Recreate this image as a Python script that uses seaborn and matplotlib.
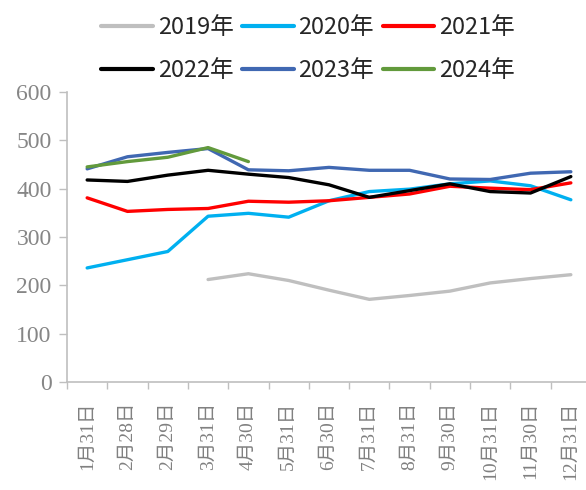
import matplotlib
matplotlib.use('Agg')
import matplotlib.pyplot as plt
import numpy as np
import pandas as pd
import seaborn as sns

# category labels (month-end dates)
dates = ['1月31日', '2月28日', '2月29日', '3月31日', '4月30日', '5月31日', '6月30日',
         '7月31日', '8月31日', '9月30日', '10月31日', '11月30日', '12月31日']
years = ['2019年', '2020年', '2021年', '2022年', '2023年', '2024年']

nan = np.nan
v2019 = [nan, nan, nan, 212, 224, 210, 190, 171, 179, 188, 205, 214, 222]
v2020 = [236, 253, 270, 343, 349, 341, 375, 394, 399, 410, 416, 406, 377]
v2021 = [381, 353, 357, 359, 374, 372, 375, 382, 389, 405, 401, 398, 412]
v2022 = [418, 415, 428, 438, 430, 423, 408, 382, 396, 410, 394, 391, 425]
v2023 = [441, 466, 475, 483, 439, 437, 444, 438, 438, 420, 419, 432, 435]
v2024 = [445, 456, 465, 485, 456, nan, nan, nan, nan, nan, nan, nan, nan]

colors = ['#BFBFBF', '#00B0F0', '#FF0000', '#000000', '#4068B2', '#629A3C']

series = [v2019, v2020, v2021, v2022, v2023, v2024]
rows = []
for yr, vals in zip(years, series):
    for i, v in enumerate(vals):
        rows.append({'idx': i, 'year': yr, 'value': v})
df = pd.DataFrame(rows).dropna()

sns.set_style('white')
plt.rcParams['font.family'] = ['Liberation Serif', 'Noto Sans CJK SC', 'DejaVu Sans']

fig = plt.figure(figsize=(5.86, 4.9), dpi=100)
ax = fig.add_axes([67 / 586, 108 / 490, 524 / 586, 290 / 490])

sns.lineplot(data=df, x='idx', y='value', hue='year', hue_order=years,
             palette=colors, linewidth=2.4, ax=ax, legend=True)

ax.set_xlim(-0.5, 12.5)
ax.set_ylim(0, 600)
ax.set_yticks(range(0, 601, 100))
ax.set_xticks(range(len(dates)))
ax.set_xticklabels(dates, rotation=90, fontsize=14, color='#808080')
ax.set_xticks(np.arange(-0.5, 12.6, 1), minor=True)
ax.tick_params(axis='x', which='major', length=0, pad=14)
ax.tick_params(axis='x', which='minor', length=5, color='#BFBFBF', width=1, direction='out')
ax.tick_params(axis='y', length=6, color='#BFBFBF', width=1, direction='out',
               labelsize=17, labelcolor='#868686', pad=5)
ax.tick_params(bottom=True, left=True, which='both')
for t in ax.get_yticklabels():
    t.set_fontfamily(['Liberation Serif'])
for t in ax.get_xticklabels():
    t.set_fontfamily(['Liberation Serif', 'Noto Sans CJK SC'])
ax.set_xlabel('')
ax.set_ylabel('')
for s in ['top', 'right']:
    ax.spines[s].set_visible(False)
for s in ['left', 'bottom']:
    ax.spines[s].set_color('#BFBFBF')
    ax.spines[s].set_linewidth(1.2)

handles, labels = ax.get_legend_handles_labels()
ax.get_legend().remove()
order = [0, 3, 1, 4, 2, 5]
leg = fig.legend([handles[i] for i in order], [labels[i] for i in order],
                 ncol=3, loc='center', bbox_to_anchor=(308 / 586, 1 - 49 / 490),
                 frameon=False, handlelength=2.2, handletextpad=0.2,
                 columnspacing=0.35, labelspacing=0.85,
                 prop={'family': ['Noto Sans CJK SC'], 'size': 17})
for h in leg.legend_handles:
    h.set_linewidth(3)

fig.savefig('out.png', dpi=100)
